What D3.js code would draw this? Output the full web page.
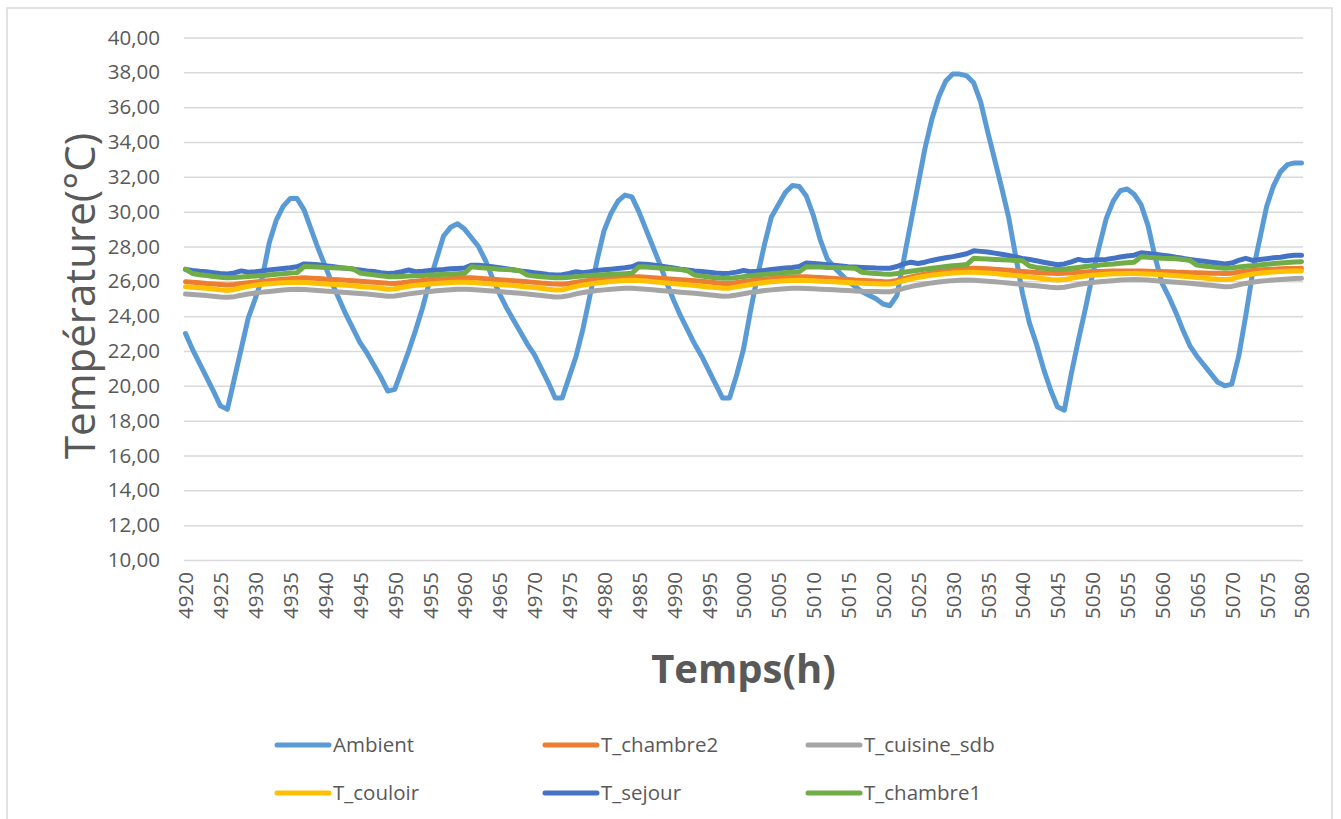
<html>
<head>
<meta http-equiv="Content-Type" content="text/html; charset=utf-8">
<title>Température</title>
<script src="https://cdnjs.cloudflare.com/ajax/libs/d3/7.8.5/d3.min.js"></script>
<style>
body, html{
  margin: 0;
  padding: 0;
  background: white;
  overflow: hidden;
}
text{
  font-family: "Open Sans", "Noto Sans", sans-serif;
  fill: #595959;
}
.grid line{
  stroke: #d9d9d9;
  stroke-width: 1.5;
}
.series{
  fill: none;
  stroke-width: 5;
  stroke-linejoin: round;
  stroke-linecap: round;
}
</style>
</head>
<body>
<div id="chart"></div>
<script type="text/javascript">

// hours 4920 .. 5080
var hours = d3.range(4920, 5081)

var yTicks = [10, 12, 14, 16, 18, 20, 22, 24, 26, 28, 30, 32, 34, 36, 38, 40]

var ambient = [
  23.0, 22.1, 21.3, 20.5, 19.7, 18.85, 18.65, 20.4, 22.15, 23.9,
  25.0, 26.2, 28.2, 29.5, 30.3, 30.75, 30.75, 30.1, 29.0, 27.9,
  26.9, 25.9, 25.0, 24.1, 23.3, 22.5, 21.9, 21.2, 20.5, 19.7,
  19.8, 20.9, 22.0, 23.2, 24.5, 26.0, 27.3, 28.6, 29.1, 29.3,
  29.0, 28.5, 28.0, 27.2, 26.2, 25.3, 24.5, 23.8, 23.1, 22.4,
  21.8, 21.0, 20.2, 19.3, 19.3, 20.5, 21.7, 23.3, 25.2, 27.2,
  28.9, 29.9, 30.6, 30.95, 30.85, 30.0, 29.0, 28.0, 27.0, 25.9,
  24.9, 24.0, 23.2, 22.4, 21.7, 20.9, 20.1, 19.3, 19.3, 20.6,
  22.1, 24.3, 26.3, 28.1, 29.7, 30.4, 31.1, 31.5, 31.45, 30.9,
  29.8, 28.4, 27.3, 26.8, 26.4, 26.0, 25.7, 25.4, 25.2, 25.0,
  24.7, 24.6, 25.2, 27.3, 29.4, 31.5, 33.6, 35.3, 36.6, 37.5,
  37.9, 37.9, 37.8, 37.4, 36.3, 34.6, 33.0, 31.4, 29.7, 27.5,
  25.3, 23.6, 22.4, 21.0, 19.8, 18.8, 18.6, 20.7, 22.6, 24.4,
  26.3, 28.0, 29.6, 30.6, 31.2, 31.3, 31.0, 30.4, 29.2, 27.4,
  25.9, 25.1, 24.2, 23.2, 22.3, 21.7, 21.2, 20.7, 20.2, 20.0,
  20.1, 21.7, 24.0, 26.5, 28.4, 30.3, 31.5, 32.3, 32.7, 32.8,
  32.8
]

var tChambre2 = [
  25.98, 25.95, 25.92, 25.88, 25.85, 25.82, 25.79, 25.82, 25.87, 25.92,
  25.96, 26.00, 26.04, 26.08, 26.12, 26.15, 26.18, 26.20, 26.18, 26.16,
  26.13, 26.11, 26.09, 26.06, 26.04, 26.01, 25.98, 25.95, 25.92, 25.89,
  25.88, 25.92, 25.97, 26.01, 26.05, 26.09, 26.12, 26.15, 26.17, 26.19,
  26.20, 26.20, 26.18, 26.15, 26.12, 26.09, 26.06, 26.03, 26.00, 25.97,
  25.94, 25.90, 25.87, 25.84, 25.83, 25.88, 25.95, 26.01, 26.06, 26.10,
  26.14, 26.18, 26.21, 26.24, 26.26, 26.26, 26.24, 26.21, 26.18, 26.15,
  26.12, 26.09, 26.06, 26.03, 26.00, 25.96, 25.92, 25.88, 25.88, 25.93,
  25.99, 26.04, 26.09, 26.13, 26.17, 26.20, 26.23, 26.25, 26.26, 26.26,
  26.24, 26.22, 26.19, 26.16, 26.13, 26.10, 26.07, 26.05, 26.03, 26.01,
  25.99, 25.98, 26.05, 26.15, 26.25, 26.34, 26.42, 26.50, 26.57, 26.63,
  26.68, 26.72, 26.75, 26.75, 26.74, 26.72, 26.69, 26.66, 26.63, 26.60,
  26.57, 26.54, 26.51, 26.48, 26.46, 26.45, 26.46, 26.49, 26.52, 26.54,
  26.56, 26.57, 26.58, 26.59, 26.60, 26.60, 26.60, 26.59, 26.58, 26.57,
  26.56, 26.55, 26.53, 26.52, 26.50, 26.49, 26.48, 26.47, 26.46, 26.45,
  26.47, 26.53, 26.58, 26.62, 26.65, 26.68, 26.70, 26.72, 26.73, 26.74,
  26.75
]

var tCuisineSdb = [
  25.27, 25.24, 25.21, 25.18, 25.14, 25.10, 25.08, 25.12, 25.20, 25.27,
  25.33, 25.38, 25.42, 25.46, 25.50, 25.53, 25.54, 25.53, 25.50, 25.47,
  25.44, 25.42, 25.39, 25.36, 25.33, 25.30, 25.27, 25.23, 25.19, 25.15,
  25.16, 25.22, 25.28, 25.33, 25.38, 25.42, 25.46, 25.49, 25.52, 25.54,
  25.54, 25.53, 25.50, 25.47, 25.44, 25.41, 25.38, 25.35, 25.31, 25.27,
  25.23, 25.19, 25.14, 25.10, 25.11, 25.18, 25.28, 25.36, 25.42, 25.47,
  25.51, 25.55, 25.58, 25.60, 25.60, 25.58, 25.55, 25.52, 25.48, 25.44,
  25.41, 25.38, 25.35, 25.31, 25.27, 25.23, 25.19, 25.15, 25.16, 25.22,
  25.29, 25.36, 25.42, 25.47, 25.51, 25.55, 25.58, 25.60, 25.60, 25.59,
  25.57, 25.55, 25.53, 25.51, 25.49, 25.47, 25.45, 25.43, 25.42, 25.41,
  25.40, 25.40, 25.48, 25.60, 25.70, 25.78, 25.85, 25.91, 25.96, 26.00,
  26.04, 26.06, 26.07, 26.06, 26.04, 26.01, 25.98, 25.94, 25.90, 25.86,
  25.82, 25.78, 25.74, 25.70, 25.66, 25.63, 25.66, 25.74, 25.82, 25.88,
  25.93, 25.97, 26.01, 26.04, 26.07, 26.09, 26.10, 26.09, 26.07, 26.04,
  26.01, 25.98, 25.95, 25.92, 25.89, 25.85, 25.81, 25.77, 25.73, 25.69,
  25.71, 25.80, 25.88, 25.95, 26.00, 26.04, 26.08, 26.11, 26.14, 26.16,
  26.17
]

var tCouloir = [
  25.69, 25.66, 25.63, 25.60, 25.56, 25.51, 25.47, 25.53, 25.63, 25.71,
  25.78, 25.83, 25.86, 25.89, 25.92, 25.94, 25.95, 25.94, 25.91, 25.88,
  25.85, 25.83, 25.80, 25.77, 25.74, 25.71, 25.68, 25.64, 25.60, 25.55,
  25.57, 25.65, 25.72, 25.77, 25.81, 25.85, 25.88, 25.91, 25.93, 25.95,
  25.95, 25.94, 25.91, 25.88, 25.85, 25.82, 25.79, 25.76, 25.72, 25.68,
  25.64, 25.60, 25.55, 25.50, 25.52, 25.61, 25.71, 25.79, 25.85, 25.90,
  25.95, 25.99, 26.02, 26.05, 26.06, 26.05, 26.02, 25.98, 25.94, 25.90,
  25.86, 25.83, 25.80, 25.76, 25.72, 25.68, 25.64, 25.60, 25.61, 25.68,
  25.75, 25.82, 25.88, 25.93, 25.97, 26.00, 26.03, 26.05, 26.06, 26.05,
  26.03, 26.01, 25.99, 25.97, 25.95, 25.93, 25.91, 25.89, 25.87, 25.86,
  25.85, 25.84, 25.92, 26.04, 26.14, 26.22, 26.29, 26.35, 26.40, 26.44,
  26.48, 26.50, 26.52, 26.52, 26.50, 26.48, 26.45, 26.41, 26.37, 26.33,
  26.29, 26.25, 26.20, 26.15, 26.10, 26.07, 26.10, 26.18, 26.25, 26.31,
  26.35, 26.38, 26.41, 26.43, 26.44, 26.45, 26.45, 26.44, 26.42, 26.40,
  26.38, 26.35, 26.32, 26.29, 26.26, 26.22, 26.19, 26.15, 26.12, 26.10,
  26.13, 26.25, 26.35, 26.42, 26.47, 26.51, 26.54, 26.56, 26.58, 26.59,
  26.60
]

var tSejour = [
  26.68, 26.62, 26.58, 26.55, 26.50, 26.45, 26.42, 26.48, 26.60, 26.52,
  26.55, 26.60, 26.65, 26.70, 26.74, 26.78, 26.84, 27.00, 26.98, 26.95,
  26.90, 26.85, 26.80, 26.75, 26.70, 26.65, 26.60, 26.56, 26.50, 26.45,
  26.48, 26.55, 26.65, 26.55, 26.58, 26.62, 26.65, 26.68, 26.72, 26.74,
  26.76, 26.93, 26.92, 26.88, 26.84, 26.78, 26.72, 26.66, 26.60, 26.55,
  26.50, 26.45, 26.40, 26.36, 26.38, 26.45, 26.55, 26.50, 26.55, 26.62,
  26.66, 26.70, 26.74, 26.78, 26.84, 27.00, 26.98, 26.94, 26.88, 26.82,
  26.76, 26.70, 26.65, 26.60, 26.56, 26.52, 26.48, 26.45, 26.47, 26.53,
  26.62, 26.55, 26.58, 26.63, 26.68, 26.72, 26.76, 26.80, 26.85, 27.05,
  27.03, 27.00, 26.96, 26.92, 26.88, 26.84, 26.82, 26.80, 26.78, 26.76,
  26.75, 26.75, 26.85, 27.00, 27.10, 27.02, 27.10, 27.20, 27.28, 27.35,
  27.42, 27.50, 27.58, 27.75, 27.72, 27.68, 27.62, 27.55, 27.48, 27.40,
  27.32, 27.25, 27.18, 27.10, 27.02, 26.95, 27.00, 27.12, 27.26, 27.18,
  27.22, 27.24, 27.26, 27.32, 27.40, 27.45, 27.50, 27.64, 27.60, 27.55,
  27.50, 27.45, 27.38, 27.32, 27.25, 27.20, 27.15, 27.10, 27.05, 27.00,
  27.05, 27.20, 27.32, 27.20, 27.25, 27.30, 27.35, 27.38, 27.45, 27.50,
  27.50
]

var tChambre1 = [
  26.70, 26.45, 26.38, 26.33, 26.28, 26.24, 26.20, 26.22, 26.25, 26.28,
  26.30, 26.33, 26.37, 26.40, 26.44, 26.48, 26.50, 26.85, 26.84, 26.82,
  26.80, 26.78, 26.77, 26.75, 26.72, 26.48, 26.42, 26.37, 26.32, 26.27,
  26.26, 26.28, 26.30, 26.32, 26.34, 26.36, 26.38, 26.40, 26.42, 26.44,
  26.46, 26.84, 26.80, 26.76, 26.73, 26.70, 26.68, 26.65, 26.60, 26.36,
  26.30, 26.26, 26.23, 26.20, 26.20, 26.24, 26.27, 26.30, 26.34, 26.36,
  26.38, 26.40, 26.42, 26.44, 26.46, 26.84, 26.82, 26.79, 26.76, 26.73,
  26.71, 26.68, 26.60, 26.36, 26.30, 26.25, 26.20, 26.17, 26.17, 26.22,
  26.27, 26.32, 26.36, 26.40, 26.44, 26.47, 26.50, 26.52, 26.55, 26.84,
  26.83, 26.82, 26.80, 26.79, 26.78, 26.77, 26.75, 26.52, 26.48, 26.45,
  26.42, 26.40, 26.45, 26.52, 26.58, 26.64, 26.70, 26.75, 26.80, 26.85,
  26.90, 26.93, 26.96, 27.32, 27.30, 27.28, 27.26, 27.24, 27.22, 27.20,
  27.18, 26.88, 26.80, 26.75, 26.70, 26.68, 26.70, 26.75, 26.80, 26.85,
  26.90, 26.93, 26.97, 27.00, 27.04, 27.07, 27.10, 27.41, 27.38, 27.36,
  27.33, 27.31, 27.29, 27.26, 27.20, 26.93, 26.88, 26.83, 26.79, 26.75,
  26.76, 26.82, 26.86, 26.90, 26.94, 26.98, 27.02, 27.05, 27.08, 27.11,
  27.13
]

var seriesNames = ["Ambient", "T_chambre2", "T_cuisine_sdb", "T_couloir", "T_sejour", "T_chambre1"]
var seriesColors = ["#5B9BD5", "#ED7D31", "#A5A5A5", "#FFC000", "#4472C4", "#70AD47"]
var seriesValues = [ambient, tChambre2, tCuisineSdb, tCouloir, tSejour, tChambre1]

var W = 1341, H = 819
var plot = {left: 184, right: 1303, top: 37.5, bottom: 560}

var svg = d3.select("#chart").append("svg")
  .attr("width", W)
  .attr("height", H)

// chart area border (cut off at the bottom like in the screenshot)
svg.append("rect")
  .attr("x", 7).attr("y", 8)
  .attr("width", 1325).attr("height", 840)
  .attr("fill", "white")
  .attr("stroke", "#d9d9d9")
  .attr("stroke-width", 1.5)

var x = d3.scalePoint()
  .domain(hours)
  .range([plot.left + 1.5, plot.right - 1.5])

var y = d3.scaleLinear()
  .domain([10, 40])
  .range([plot.bottom, plot.top])

// y axis + gridlines
var yAxis = svg.append("g")
  .attr("class", "grid")
  .attr("transform", "translate(" + plot.left + ",0)")
  .call(d3.axisLeft(y)
    .tickValues(yTicks)
    .tickSize(-(plot.right - plot.left))
    .tickPadding(24)
    .tickFormat(function(d){ return d.toFixed(2).replace(".", ",") }))
yAxis.select(".domain").remove()
yAxis.selectAll("text")
  .style("font-size", "20.5px")
  .attr("fill", "#595959")

// x axis, labels every 5 hours
var xAxis = svg.append("g")
  .attr("transform", "translate(0," + plot.bottom + ")")
  .call(d3.axisBottom(x)
    .tickValues(hours.filter(function(h){ return (h - 4920) % 5 == 0 }))
    .tickSize(0))
xAxis.select(".domain").remove()
xAxis.selectAll("text")
  .attr("transform", "rotate(-90)")
  .attr("x", -12)
  .attr("y", 0)
  .attr("dy", "0.36em")
  .attr("fill", "#595959")
  .style("text-anchor", "end")
  .style("font-size", "20.5px")

// lines
var line = d3.line()
  .x(function(d, i){ return x(hours[i]) })
  .y(function(d){ return y(d) })

seriesValues.forEach(function(vals, k){
  svg.append("path")
    .attr("class", "series")
    .attr("d", line(vals))
    .style("stroke", seriesColors[k])
})

// axis titles
svg.append("text")
  .attr("transform", "translate(95,296) rotate(-90)")
  .attr("text-anchor", "middle")
  .style("font-size", "42px")
  .text("Température(°C)")

svg.append("text")
  .attr("x", (plot.left + plot.right) / 2)
  .attr("y", 683)
  .attr("text-anchor", "middle")
  .style("font-size", "40px")
  .style("font-weight", "bold")
  .text("Temps(h)")

// legend: 3 columns, 2 rows
var legCols = [275, 543, 806], legRows = [745, 793]
seriesNames.forEach(function(name, k){
  var lx = legCols[k % 3], ly = legRows[Math.floor(k / 3)]
  var g = svg.append("g").attr("transform", "translate(" + lx + "," + ly + ")")
  g.append("line")
    .attr("x1", 2).attr("x2", 54)
    .attr("y1", 0).attr("y2", 0)
    .style("stroke", seriesColors[k])
    .style("stroke-width", 5)
    .style("stroke-linecap", "round")
  g.append("text")
    .attr("x", 58)
    .attr("dy", "0.36em")
    .style("font-size", "20.5px")
    .text(name)
})

</script>
</body>
</html>
